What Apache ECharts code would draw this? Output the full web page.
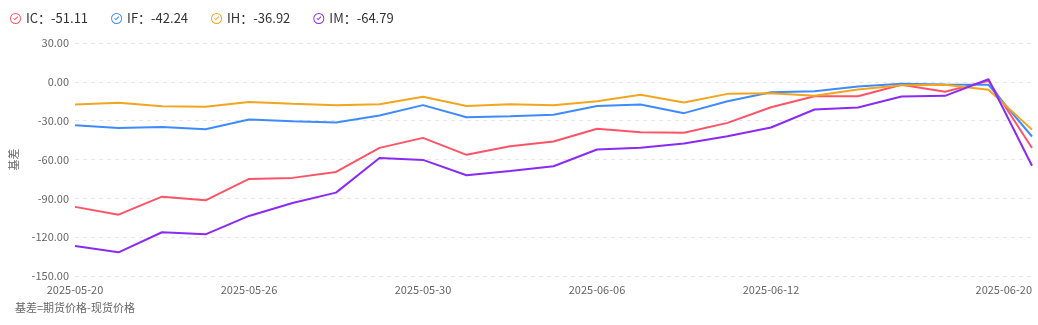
<!DOCTYPE html>
<html>
<head>
<meta charset="utf-8">
<script src="https://cdn.jsdelivr.net/npm/echarts@6/dist/echarts.min.js"></script>
<style>html,body{margin:0;padding:0;background:#fff;}#c{width:1038px;height:325px;}</style>
</head>
<body>
<div id="c"></div>
<script>
const dates = ['2025-05-20','2025-05-21','2025-05-22','2025-05-23','2025-05-26','2025-05-27','2025-05-28','2025-05-29','2025-05-30','2025-06-03','2025-06-04','2025-06-05','2025-06-06','2025-06-09','2025-06-10','2025-06-11','2025-06-12','2025-06-13','2025-06-16','2025-06-17','2025-06-18','2025-06-19','2025-06-20'];
const IC = [-96.6,-102.6,-88.7,-91.5,-75.0,-74.2,-69.6,-51.0,-43.3,-56.4,-49.7,-46.1,-36.3,-38.9,-39.4,-31.7,-19.6,-11.1,-11.1,-2.3,-7.7,0.8,-51.11];
const IF = [-33.5,-35.6,-34.8,-36.6,-29.1,-30.4,-31.4,-26.0,-18.0,-27.3,-26.5,-25.5,-18.6,-17.5,-24.2,-15.0,-8.0,-7.2,-3.6,-1.5,-2.0,-2.3,-42.24];
const IH = [-17.5,-16.2,-18.8,-19.3,-15.5,-17.0,-18.0,-17.3,-11.6,-18.6,-17.3,-18.0,-15.0,-10.0,-16.0,-9.3,-8.8,-10.8,-5.9,-2.6,-2.3,-6.2,-36.92];
const IM = [-126.8,-131.7,-116.2,-117.8,-103.6,-93.6,-85.6,-58.8,-60.3,-72.2,-68.8,-65.2,-52.3,-51.0,-47.7,-42.0,-35.3,-21.4,-19.8,-11.3,-10.8,2.0,-64.79];
const seriesNames = ['IC','IF','IH','IM'];
const colors = ['#FF5468','#3D8BFF','#F2A51E','#8A2BF5'];
const yTicks = {min:-150, max:30, interval:30};
const yName = '基差';
const note = '基差=期货价格-现货价格';

const seriesData = [IC, IF, IH, IM];
const lastVal = {};
seriesNames.forEach((n,i)=>{ lastVal[n] = seriesData[i][seriesData[i].length-1]; });

const checkIcon = 'path://M12,2A10,10,0,1,1,11.99,2Z M12,3.7A8.3,8.3,0,1,0,12.01,3.7Z M7.6,12.1L10.6,15.1L16.6,9.1L15.4,7.9L10.6,12.7L8.8,10.9Z';

const chart = echarts.init(document.getElementById('c'), null, {renderer:'canvas'});
const fontFam = '"Noto Sans CJK SC", "Noto Sans", sans-serif';
chart.setOption({
  animation:false,
  color: colors,
  textStyle:{fontFamily: fontFam},
  legend:{
    left: 5, top: 7,
    icon: checkIcon,
    itemWidth: 11, itemHeight: 11,
    itemGap: 23,
    textStyle:{color:'#333', fontSize:13, fontFamily: fontFam},
    formatter: n => n + '：' + lastVal[n].toFixed(2),
    data: seriesNames
  },
  grid:{left:73, right:6, top:43, bottom:49, containLabel:false},
  xAxis:{
    type:'category',
    data: dates,
    boundaryGap:false,
    axisLine:{show:false},
    axisTick:{show:false},
    axisLabel:{
      color:'#666', fontSize:11, margin:8,
      interval:(i)=> (i%4===0 && i<=16) || i===dates.length-1,
      alignMaxLabel:'right'
    },
    splitLine:{show:false}
  },
  yAxis:{
    type:'value',
    min:yTicks.min, max:yTicks.max, interval:yTicks.interval,
    name: yName, nameLocation:'middle', nameRotate:90, nameGap:56,
    nameTextStyle:{color:'#666', fontSize:11},
    axisLine:{show:false}, axisTick:{show:false},
    axisLabel:{color:'#666', fontSize:11, margin:6, formatter:v=>v.toFixed(2)},
    splitLine:{lineStyle:{type:[4,4], color:'#e6e6e6'}}
  },
  graphic:[{type:'text', left:15, top:302, style:{text:note, fill:'#666', font:'11px "Noto Sans CJK SC", sans-serif'}}],
  series: seriesNames.map((n,i)=>({
    name:n, type:'line', data: seriesData[i], showSymbol:false, symbol:'none',
    lineStyle:{width:2}, smooth:false
  }))
});
</script>
</body>
</html>
